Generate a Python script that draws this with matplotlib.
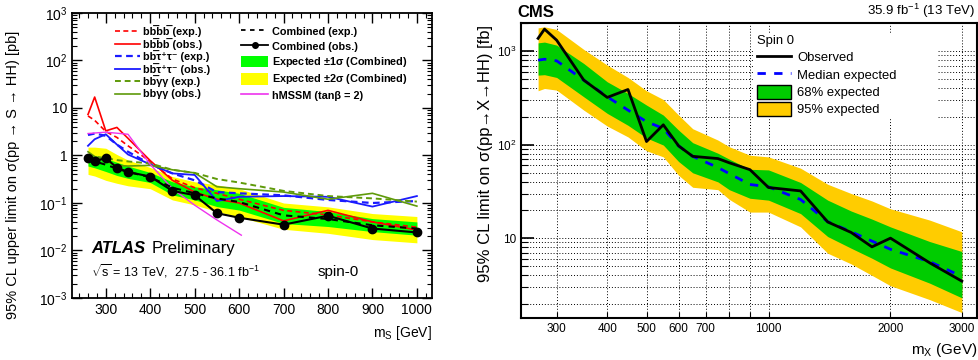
import numpy as np
import matplotlib
matplotlib.use('Agg')
import matplotlib.pyplot as plt
from matplotlib.patches import Patch, Rectangle
from matplotlib.lines import Line2D
from matplotlib.ticker import FixedLocator, NullFormatter, FuncFormatter, MultipleLocator

plt.rcParams['font.family'] = ['Liberation Sans', 'DejaVu Sans']
plt.rcParams['mathtext.fontset'] = 'custom'
plt.rcParams['mathtext.rm'] = 'Liberation Sans'
plt.rcParams['mathtext.it'] = 'Liberation Sans:italic'
plt.rcParams['mathtext.bf'] = 'Liberation Sans:bold'
plt.rcParams['mathtext.default'] = 'regular'

# ---------------- ATLAS (left) data ----------------
m_atl = [260, 275, 300, 325, 350, 400, 450, 500, 550, 600, 700, 800, 900, 1000]
comb_obs = [0.87, 0.75, 0.89, 0.55, 0.45, 0.36, 0.18, 0.146, 0.061, 0.049, 0.035, 0.054, 0.029, 0.024]
comb_exp = [0.78, 0.75, 0.64, 0.53, 0.45, 0.35, 0.21, 0.16, 0.125, 0.105, 0.055, 0.046, 0.034, 0.029]
comb_2up = [1.50, 1.50, 1.42, 1.05, 0.80, 0.56, 0.36, 0.28, 0.24, 0.20, 0.100, 0.083, 0.060, 0.052]
comb_1up = [1.00, 1.00, 0.87, 0.72, 0.60, 0.44, 0.28, 0.22, 0.19, 0.16, 0.081, 0.066, 0.047, 0.040]
comb_1dn = [0.60, 0.55, 0.46, 0.38, 0.33, 0.27, 0.148, 0.116, 0.084, 0.071, 0.037, 0.032, 0.025, 0.021]
comb_2dn = [0.40, 0.37, 0.30, 0.26, 0.23, 0.20, 0.116, 0.091, 0.066, 0.051, 0.028, 0.023, 0.017, 0.0145]

bbbb_exp = [6.8, 5.5, 3.2, 2.4, 1.6, 0.75, 0.32, 0.21, 0.16, 0.12, 0.070, 0.056, 0.040, 0.031]
bbbb_obs = [7.3, 17.0, 3.3, 3.9, 2.3, 0.78, 0.30, 0.17, 0.12, 0.10, 0.042, 0.070, 0.040, 0.027]
bbtt_exp = [2.7, 2.9, 2.6, 1.7, 1.2, 0.66, 0.42, 0.30, 0.17, 0.16, 0.145, 0.116, 0.100, 0.110]
bbtt_obs = [1.6, 2.2, 2.8, 1.7, 1.05, 0.65, 0.42, 0.39, 0.11, 0.135, 0.140, 0.135, 0.084, 0.140]
bbgg_exp = [1.0, 0.95, 0.88, 0.80, 0.75, 0.68, 0.50, 0.43, 0.32, 0.27, 0.18, 0.14, 0.125, 0.107]
bbgg_obs = [1.2, 0.95, 0.75, 0.62, 0.60, 0.62, 0.50, 0.43, 0.22, 0.20, 0.17, 0.12, 0.16, 0.086]

m_hmssm = [260, 300, 350, 400, 450, 500, 550, 605]
hmssm = [2.9, 3.1, 2.8, 0.65, 0.20, 0.09, 0.044, 0.021]

# ---------------- CMS (right) data ----------------
m_cms = [270, 280, 300, 350, 400, 450, 500, 550, 600, 650, 750, 800, 900, 1000,
         1200, 1400, 1600, 1800, 2000, 2500, 3000]
cms_obs = [1370, 1720, 1310, 490, 320, 389, 108, 163, 97, 75, 71, 64, 54, 34.8,
           32, 14.9, 11.5, 8.07, 10.0, 5.44, 3.47]
cms_exp = [800, 820, 788, 490, 325, 234, 176, 149, 97, 75, 57, 49, 37.5, 35.4,
           25.9, 15.0, 11.7, 9.3, 7.6, 5.6, 3.9]
cms_2up = [1775, 1820, 1705, 1043, 709, 523, 377, 304, 207, 148, 112, 95, 77, 74,
           56, 37.7, 30, 25, 20.6, 15.6, 11.7]
cms_1up = [1227, 1250, 1160, 738, 470, 353, 265, 207, 143, 105, 81, 70, 54.5, 53.7,
           39.4, 25.5, 19.5, 16, 13.2, 9.2, 7.2]
cms_1dn = [554, 560, 523, 325, 216, 161, 118, 99, 66, 50, 40, 33, 26.7, 25.5,
           18.3, 10.4, 7.8, 6.1, 4.8, 3.3, 2.3]
cms_2dn = [377, 399, 383, 234, 158, 121, 86, 74, 47, 35, 33, 26, 19, 19,
           13.2, 6.9, 5.3, 4.0, 3.1, 2.2, 1.6]

cms_xticks = [300, 400, 500, 600, 700, 1000, 2000, 3000]
cms_xminor = [800, 900]

W, H = 979, 360
fig = plt.figure(figsize=(W / 100, H / 100), dpi=100)


def fr(x0, y0, x1, y1):
    return [x0 / W, 1 - y1 / H, (x1 - x0) / W, (y1 - y0) / H]


# ======================= LEFT: ATLAS =======================
ax1 = fig.add_axes(fr(72, 13, 432, 298))
ax1.fill_between(m_atl, comb_2dn, comb_2up, color='#ffff00', lw=0, zorder=1)
ax1.fill_between(m_atl, comb_1dn, comb_1up, color='#00ff00', lw=0, zorder=1.1)

red, blue, olive, mag = '#ff0000', '#1a1aff', '#5f9a0a', '#ee33ee'
ch_styles = [dict(color=red, lw=1.2, dashes=(3, 2)),
             dict(color=red, lw=1.2),
             dict(color=blue, lw=1.6, dashes=(3, 2)),
             dict(color=blue, lw=1.3),
             dict(color=olive, lw=1.4, dashes=(3, 2)),
             dict(color=olive, lw=1.2)]
ch_data = [bbbb_exp, bbbb_obs, bbtt_exp, bbtt_obs, bbgg_exp, bbgg_obs]
for d, st in zip(ch_data, ch_styles):
    ax1.plot(m_atl, d, zorder=3, **st)
ax1.plot(m_hmssm, hmssm, color=mag, lw=1.0, zorder=3)
ax1.plot(m_atl, comb_exp, color='black', lw=1.5, dashes=(3, 2.5), zorder=4)
ax1.plot(m_atl, comb_obs, color='black', lw=1.5, marker='o', ms=6, zorder=5)

ax1.set_yscale('log')
ax1.set_ylim(1e-3, 1e3)
ax1.set_xlim(224, 1034)
ax1.xaxis.set_minor_locator(MultipleLocator(20))
ax1.set_xticks([300, 400, 500, 600, 700, 800, 900, 1000])


def atl_fmt(v, pos):
    e = int(round(np.log10(v)))
    if e == 0:
        return '1'
    if e == 1:
        return '10'
    return r'$10^{%d}$' % e


ax1.yaxis.set_major_formatter(FuncFormatter(atl_fmt))
ax1.tick_params(which='both', direction='in', top=True, right=True, labelsize=10)
ax1.tick_params(which='major', length=7, width=1)
ax1.tick_params(which='minor', length=3.5, width=0.8)
for s in ax1.spines.values():
    s.set_linewidth(1.3)

fig.text(13 / W, 1 - 175 / H, r'95% CL upper limit on σ(pp → S → HH) [pb]',
         rotation=90, ha='center', va='center', fontsize=10.5)
fig.text(432 / W, 1 - 333 / H, r'm$_S$ [GeV]', ha='right', va='center', fontsize=10)

fig.text(91 / W, 1 - 253 / H, 'ATLAS', fontsize=12, fontweight='bold',
         fontstyle='italic', ha='left', va='baseline')
fig.text(152 / W, 1 - 253 / H, 'Preliminary', fontsize=12, ha='left', va='baseline')
fig.text(91 / W, 1 - 276 / H, r'$\sqrt{s}$ = 13 TeV,  27.5 - 36.1 fb$^{-1}$',
         fontsize=9, ha='left', va='baseline')
fig.text(318 / W, 1 - 276 / H, 'spin-0', fontsize=11, ha='left', va='baseline')

# legend column 1 (channels) - rows placed explicitly
OB = '\u0305'
l1 = ['bb' + OB + 'bb' + OB + ' (exp.)',
      'bb' + OB + 'bb' + OB + ' (obs.)',
      'bb' + OB + 'τ\u207aτ\u207b (exp.)',
      'bb' + OB + 'τ\u207aτ\u207b (obs.)',
      'bb' + OB + 'γγ (exp.)',
      'bbγγ (obs.)']
row_y = [31, 43.5, 56, 68.5, 81, 93.5]
for lab, st, yy in zip(l1, ch_styles, row_y):
    fig.add_artist(Line2D([115 / W, 140 / W], [1 - yy / H, 1 - yy / H],
                          transform=fig.transFigure, **st))
    fig.text(143 / W, 1 - (yy + 0.5) / H, lab, fontsize=7.8, fontweight='bold',
             ha='left', va='center', family=['Liberation Sans', 'DejaVu Sans'])

h2 = [Line2D([], [], color='black', lw=1.3, dashes=(2.5, 2.5)),
      Line2D([], [], color='black', lw=1.3, marker='o', ms=4),
      Patch(facecolor='#00ff00', edgecolor='none'),
      Patch(facecolor='#ffff00', edgecolor='none'),
      Line2D([], [], color=mag, lw=1.2)]
l2 = ['Combined (exp.)', 'Combined (obs.)', r'Expected $\pm$1σ (Combined)',
      r'Expected $\pm$2σ (Combined)', 'hMSSM (tanβ = 2)']
leg2 = fig.legend(h2, l2, loc='upper left', bbox_to_anchor=(241 / W, 1 - 25 / H),
                  frameon=False, prop={'weight': 'bold', 'size': 7.8},
                  handlelength=2.5, handleheight=1.3, handletextpad=0.4,
                  labelspacing=0.3, borderpad=0, borderaxespad=0)

# ======================= RIGHT: CMS =======================
ax2 = fig.add_axes(fr(521, 23, 977, 318))
ax2.set_xscale('log')
ax2.set_yscale('log')
ax2.fill_between(m_cms, cms_2dn, cms_2up, color='#ffcc00', lw=0, zorder=2)
ax2.fill_between(m_cms, cms_1dn, cms_1up, color='#00cc00', lw=0, zorder=2.1)
ax2.plot(m_cms, cms_exp, color='#0000ff', lw=2, dashes=(3, 3), zorder=3)
ax2.plot(m_cms, cms_obs, color='black', lw=2, zorder=4)
ax2.set_xlim(245, 3270)
ax2.set_ylim(1.4, 2000)

ax2.xaxis.set_major_locator(FixedLocator(cms_xticks))
ax2.xaxis.set_minor_locator(FixedLocator(cms_xminor))
ax2.xaxis.set_major_formatter(FuncFormatter(lambda v, p: '%d' % v))
ax2.xaxis.set_minor_formatter(NullFormatter())


def cms_fmt(v, pos):
    e = int(round(np.log10(v)))
    if e == 1:
        return '10'
    return r'$10^{%d}$' % e


ax2.yaxis.set_major_formatter(FuncFormatter(cms_fmt))
ax2.tick_params(which='both', direction='in', labelsize=8.5)
ax2.tick_params(axis='y', which='major', length=9, width=1.2)
ax2.tick_params(axis='y', which='minor', length=5, width=0.8)
ax2.tick_params(axis='x', which='major', length=4, width=0.8)
ax2.tick_params(axis='x', which='minor', length=4, width=0.8)
ax2.set_axisbelow(True)
ax2.grid(True, which='both', color='black', lw=0.7, linestyle=(0, (1, 2)), zorder=0)
for s in ax2.spines.values():
    s.set_linewidth(1.5)
    s.set_zorder(10)

# white legend area covering grid
ax2.add_patch(Rectangle((753 / W, 1 - 118 / H), (938 - 753) / W, (118 - 33) / H,
                        transform=fig.transFigure, facecolor='white',
                        edgecolor='none', zorder=1.5))
h3 = [Line2D([], [], color='black', lw=2),
      Line2D([], [], color='#0000ff', lw=2, dashes=(3, 3)),
      Patch(facecolor='#00cc00', edgecolor='black', lw=1),
      Patch(facecolor='#ffcc00', edgecolor='black', lw=1)]
l3 = ['Observed', 'Median expected', '68% expected', '95% expected']
leg3 = ax2.legend(h3, l3, title='Spin 0', loc='upper left',
                  bbox_to_anchor=(757 / W, 1 - 35 / H),
                  bbox_transform=fig.transFigure, frameon=False, fontsize=9.4,
                  title_fontsize=9.4, alignment='left', handlelength=2.6,
                  handleheight=1.3, handletextpad=0.5, labelspacing=0.22,
                  borderpad=0, borderaxespad=0)
leg3.set_zorder(20)

fig.text(517 / W, 1 - 17 / H, 'CMS', fontsize=12, fontweight='bold',
         ha='left', va='baseline')
fig.text(975 / W, 1 - 15 / H, r'35.9 fb$^{-1}$ (13 TeV)', fontsize=9.5,
         ha='right', va='baseline')
fig.text(486 / W, 1 - 153 / H, '95% CL limit on σ(pp→X→HH) [fb]', rotation=90,
         ha='center', va='center', fontsize=12)
fig.text(977 / W, 1 - 350 / H, r'm$_X$ (GeV)', ha='right', va='center', fontsize=11)

fig.savefig('out.png', dpi=100)
